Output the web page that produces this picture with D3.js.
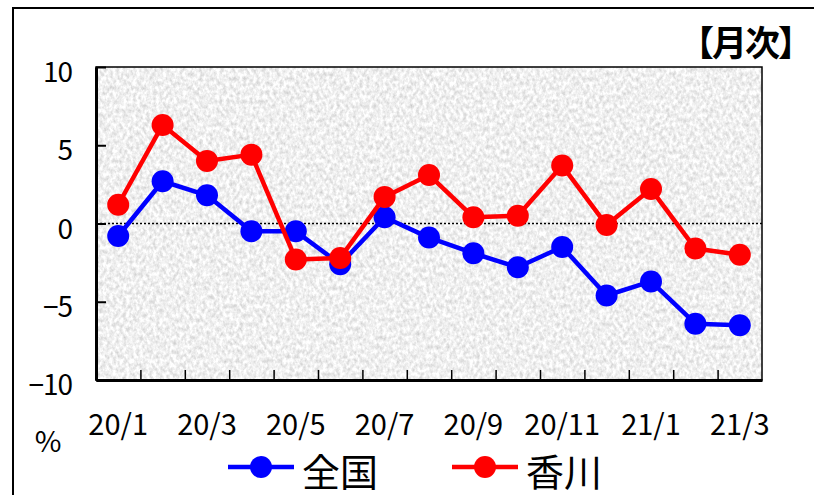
<!DOCTYPE html>
<html><head><meta charset="utf-8">
<script src="https://cdn.jsdelivr.net/npm/d3@7"></script>
<style>html,body{margin:0;padding:0;background:#fff;}svg{display:block;}</style>
</head><body>
<script>
const categories = ["20/1","20/2","20/3","20/4","20/5","20/6","20/7","20/8","20/9","20/10","20/11","20/12","21/1","21/2","21/3"];
const zenkoku = [-0.8, 2.7, 1.8, -0.5, -0.5, -2.6, 0.4, -0.9, -1.9, -2.8, -1.5, -4.6, -3.7, -6.4, -6.5];
const kagawa  = [1.2, 6.3, 4.0, 4.4, -2.3, -2.2, 1.7, 3.1, 0.4, 0.5, 3.7, -0.1, 2.2, -1.6, -2.0];
const yTicks = [10, 5, 0, -5, -10];
const xLabels = ["20/1","20/3","20/5","20/7","20/9","20/11","21/1","21/3"];
const series = [
  {name: "全国", values: zenkoku, color: "#0000ff"},
  {name: "香川", values: kagawa, color: "#ff0000"}
];

const W = 814, H = 495;
const FONT = "'Noto Sans CJK JP', 'Noto Sans', sans-serif";
const svg = d3.select("body").append("svg").attr("width", W).attr("height", H);

const defs = svg.append("defs");
const f = defs.append("filter").attr("id","noise").attr("x",0).attr("y",0).attr("width","100%").attr("height","100%")
  .attr("color-interpolation-filters","sRGB");
f.append("feTurbulence").attr("type","fractalNoise").attr("baseFrequency","0.3 0.22").attr("numOctaves",3).attr("seed",7);
f.append("feColorMatrix").attr("type","matrix")
  .attr("values","0.32 0 0 0 0.78  0.32 0 0 0 0.78  0.32 0 0 0 0.78  0 0 0 0 1");

// outer frame
svg.append("rect").attr("x",13).attr("y",8).attr("width",900).attr("height",600)
  .attr("fill","none").attr("stroke","#000").attr("stroke-width",2);

const x0 = 96, x1 = 762, y0 = 67, y1 = 380;
const x = d3.scaleBand().domain(categories).range([x0, x1]);
const y = d3.scaleLinear().domain([-10, 10]).range([y1, y0]);
const cx = d => x(d) + x.bandwidth()/2;

// plot background
svg.append("rect").attr("x",x0).attr("y",y0).attr("width",x1-x0).attr("height",y1-y0)
  .attr("filter","url(#noise)");
svg.append("rect").attr("x",x0).attr("y",y0).attr("width",x1-x0).attr("height",y1-y0)
  .attr("fill","none").attr("stroke","#000").attr("stroke-width",1.5);

// zero line
svg.append("line").attr("x1",x0).attr("x2",x1).attr("y1",y(0)).attr("y2",y(0))
  .attr("stroke","#000").attr("stroke-width",1.5).attr("stroke-dasharray","2,2");

// y axis
const yAxis = d3.axisLeft(y).tickValues(yTicks).tickSize(-10).tickFormat("").tickSizeOuter(0);
const gy = svg.append("g").attr("transform",`translate(${x0},0)`).call(yAxis);
gy.select(".domain").attr("stroke","#000").attr("stroke-width",3);
gy.selectAll(".tick line").attr("stroke","#000").attr("stroke-width",2);
svg.append("g").selectAll("text").data(yTicks).join("text")
  .attr("x",72).attr("y",d => y(d)+3).attr("text-anchor","end").attr("dominant-baseline","central")
  .attr("font-family",FONT).attr("font-size",28).attr("letter-spacing",-1).attr("fill","#000")
  .text(d => d < 0 ? "\u2212" + Math.abs(d) : d);

// x axis ticks at band boundaries
const bounds = categories.map(c => x(c)).concat([x1]);
const xb = d3.scaleLinear().domain([x0,x1]).range([x0,x1]);
const xAxis = d3.axisBottom(xb).tickValues(bounds.slice(1, -1)).tickSize(-10).tickFormat("").tickSizeOuter(0);
const gx = svg.append("g").attr("transform",`translate(0,${y1})`).call(xAxis);
gx.select(".domain").attr("stroke","#000").attr("stroke-width",3);
gx.selectAll(".tick line").attr("stroke","#000").attr("stroke-width",1.5);
svg.append("g").selectAll("text").data(xLabels).join("text")
  .attr("x",d => cx(d)).attr("y",435).attr("text-anchor","middle")
  .attr("font-family",FONT).attr("font-size",29).attr("fill","#000")
  .text(d => d);

svg.append("text").attr("x",48).attr("y",452).attr("text-anchor","middle")
  .attr("font-family",FONT).attr("font-size",29).attr("fill","#000").text("%");

svg.append("text").attr("x",811).attr("y",56).attr("text-anchor","end")
  .attr("font-family",FONT).attr("font-size",35).attr("letter-spacing",-2).attr("font-weight","bold").attr("fill","#000").text("【月次】");

// lines
const line = d3.line().x((d,i) => cx(categories[i])).y(d => y(d));
series.forEach(s => {
  svg.append("path").datum(s.values).attr("d",line).attr("fill","none")
    .attr("stroke",s.color).attr("stroke-width",4.5).attr("stroke-linejoin","round");
  svg.append("g").selectAll("circle").data(s.values).join("circle")
    .attr("cx",(d,i) => cx(categories[i])).attr("cy",d => y(d)).attr("r",11).attr("fill",s.color);
});

// legend
const legend = [{s: series[0], lx: 228, tx: 302}, {s: series[1], lx: 452, tx: 526}];
legend.forEach(l => {
  svg.append("line").attr("x1",l.lx).attr("x2",l.lx+66).attr("y1",467).attr("y2",467)
    .attr("stroke",l.s.color).attr("stroke-width",4.5);
  svg.append("circle").attr("cx",l.lx+33).attr("cy",467).attr("r",11).attr("fill",l.s.color);
  svg.append("text").attr("x",l.tx).attr("y",469).attr("dominant-baseline","central")
    .attr("font-family",FONT).attr("font-size",38).attr("fill","#000").text(l.s.name);
});
</script>
</body></html>
